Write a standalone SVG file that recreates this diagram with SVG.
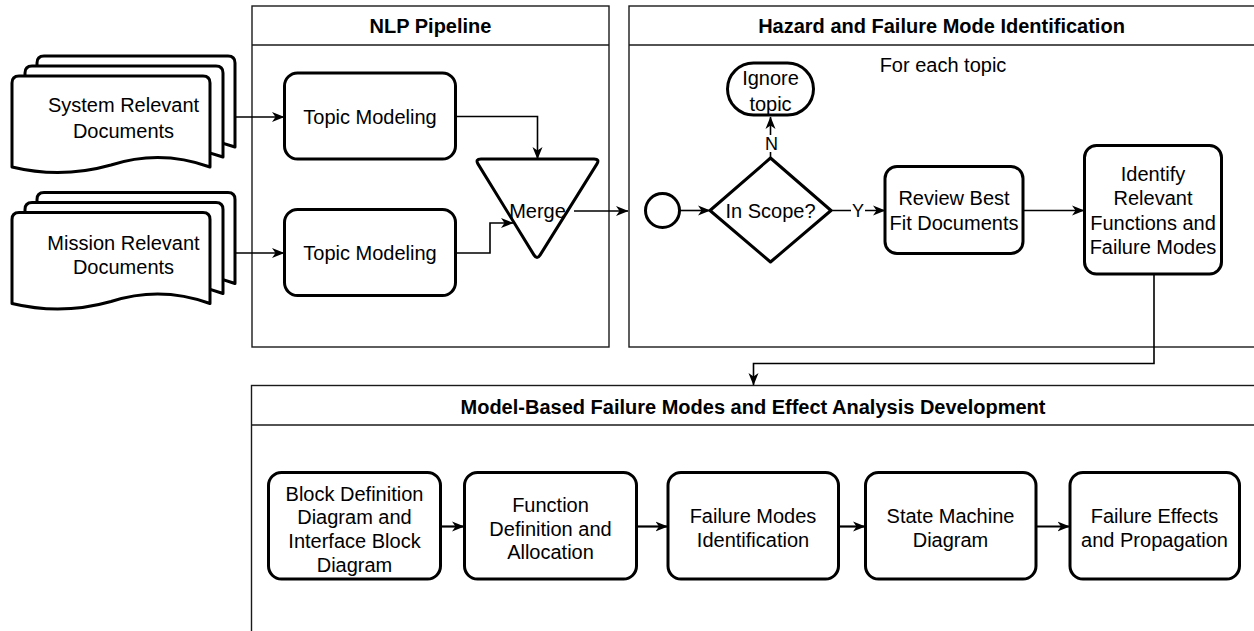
<svg xmlns="http://www.w3.org/2000/svg" width="1254" height="631" viewBox="0 0 1254 631">
<style>
  text{font-family:"Liberation Sans",Arial,sans-serif;font-size:20px;fill:#000;text-anchor:middle;dominant-baseline:central}
  .title{font-weight:bold}
  .lbl{font-size:18px}
  .cont{fill:#fff;stroke:#1a1a1a;stroke-width:1.4}
  .box{fill:#fff;stroke:#000;stroke-width:3;stroke-linejoin:round}
  .doc{fill:#fff;stroke:#000;stroke-width:3;stroke-linejoin:round}
  .edge{fill:none;stroke:#000;stroke-width:1.6}
  .edge2{fill:none;stroke:#000;stroke-width:2.2}
</style>
<defs>
  <marker id="arr" markerUnits="userSpaceOnUse" markerWidth="13" markerHeight="11" viewBox="0 0 13 11" refX="12" refY="5.5" orient="auto">
    <path d="M0,0.5 L12.5,5.5 L0,10.5 L3.5,5.5 Z" fill="#000"/>
  </marker>
  <path id="docshape" d="M0,7 Q0,0 7,0 L191,0 Q198,0 198,7 L198,91 Q148.5,73 99,89 Q49.5,103 0,91 Z"/>
</defs>
<rect width="1254" height="631" fill="#fff"/>

<g id="nlp-pipeline">
  <rect class="cont" x="252" y="6" width="357" height="341"/>
  <line x1="252" y1="45" x2="609" y2="45" stroke="#1a1a1a" stroke-width="1.4"/>
  <text class="title" x="430.5" y="26">NLP Pipeline</text>
</g>
<g id="hazard-identification">
  <rect class="cont" x="629" y="6" width="630" height="341"/>
  <line x1="629" y1="45" x2="1259" y2="45" stroke="#1a1a1a" stroke-width="1.4"/>
  <text class="title" x="941.5" y="26">Hazard and Failure Mode Identification</text>
  <text x="943" y="65">For each topic</text>
</g>
<g id="mbfmea-development">
  <rect class="cont" x="251.5" y="385.5" width="1008" height="260"/>
  <line x1="251.5" y1="425" x2="1259" y2="425" stroke="#1a1a1a" stroke-width="1.4"/>
  <text class="title" x="753" y="406.5">Model-Based Failure Modes and Effect Analysis Development</text>
</g>

<g id="system-docs">
  <use href="#docshape" class="doc" transform="translate(37,56)"/>
  <use href="#docshape" class="doc" transform="translate(25,66)"/>
  <use href="#docshape" class="doc" transform="translate(12,76)"/>
  <text x="123.5" y="105">System Relevant</text>
  <text x="123.5" y="130.5">Documents</text>
</g>
<g id="mission-docs">
  <use href="#docshape" class="doc" transform="translate(37,192.5)"/>
  <use href="#docshape" class="doc" transform="translate(25,202.5)"/>
  <use href="#docshape" class="doc" transform="translate(12,212.5)"/>
  <text x="123.5" y="242.5">Mission Relevant</text>
  <text x="123.5" y="267">Documents</text>
</g>

<g id="topic-modeling-1">
  <rect class="box" x="284.5" y="73" width="171" height="86" rx="13"/>
  <text x="370" y="116.5">Topic Modeling</text>
</g>
<g id="topic-modeling-2">
  <rect class="box" x="284.5" y="209.5" width="171" height="86" rx="13"/>
  <text x="370" y="252.5">Topic Modeling</text>
</g>
<g id="merge">
  <path class="box" d="M481,159 L594,159 Q600,159 596.8,164.1 L540.2,254.9 Q537,260 533.9,254.9 L478.1,164.1 Q475,159 481,159 Z"/>
  <text x="537.5" y="210.5">Merge</text>
</g>

<g id="start">
  <circle class="box" cx="662.5" cy="210.5" r="17"/>
</g>
<g id="in-scope">
  <path class="box" d="M710,210.5 L770.5,158 L831,210.5 L770.5,262 Z"/>
  <text x="770.5" y="210.5">In Scope?</text>
</g>
<g id="ignore-topic">
  <rect class="box" x="727.5" y="63" width="86" height="52" rx="26"/>
  <text x="770.5" y="77.5">Ignore</text>
  <text x="770.5" y="103.5">topic</text>
</g>
<g id="review-docs">
  <rect class="box" x="885" y="166.5" width="138" height="87" rx="12"/>
  <text x="954" y="198">Review Best</text>
  <text x="954" y="222.5">Fit Documents</text>
</g>
<g id="identify-functions">
  <rect class="box" x="1084.5" y="145.5" width="137" height="128.5" rx="12"/>
  <text x="1153" y="173.5">Identify</text>
  <text x="1153" y="198">Relevant</text>
  <text x="1153" y="222.5">Functions and</text>
  <text x="1153" y="247">Failure Modes</text>
</g>

<g id="bdd-ibd">
  <rect class="box" x="268.5" y="472.5" width="172" height="106.5" rx="13"/>
  <text x="354.5" y="493.5">Block Definition</text>
  <text x="354.5" y="517">Diagram and</text>
  <text x="354.5" y="541">Interface Block</text>
  <text x="354.5" y="565">Diagram</text>
</g>
<g id="function-definition">
  <rect class="box" x="464.5" y="472.5" width="172" height="106.5" rx="13"/>
  <text x="550.5" y="505">Function</text>
  <text x="550.5" y="528.5">Definition and</text>
  <text x="550.5" y="552">Allocation</text>
</g>
<g id="failure-modes-id">
  <rect class="box" x="668" y="472.5" width="170.5" height="106.5" rx="13"/>
  <text x="753" y="515.5">Failure Modes</text>
  <text x="753" y="540">Identification</text>
</g>
<g id="state-machine">
  <rect class="box" x="865.5" y="472.5" width="170.5" height="106.5" rx="13"/>
  <text x="950.5" y="515.5">State Machine</text>
  <text x="950.5" y="540">Diagram</text>
</g>
<g id="failure-effects">
  <rect class="box" x="1070" y="472.5" width="169.5" height="106.5" rx="13"/>
  <text x="1154.5" y="515.5">Failure Effects</text>
  <text x="1154.5" y="540">and Propagation</text>
</g>

<g id="connectors">
  <path class="edge" d="M235,117 H284" marker-end="url(#arr)"/>
  <path class="edge" d="M235,253 H284" marker-end="url(#arr)"/>
  <path class="edge" d="M456,116.5 H537.5 V159" marker-end="url(#arr)"/>
  <path class="edge" d="M456,253 H490 V223 H513" marker-end="url(#arr)"/>
  <path class="edge" d="M574,211 H628" marker-end="url(#arr)"/>
  <path class="edge" d="M680,210.5 H710" marker-end="url(#arr)"/>
  <path class="edge" d="M770.5,158 V117" marker-end="url(#arr)"/>
  <rect x="763" y="135" width="16" height="17" fill="#fff"/>
  <text class="lbl" x="771.5" y="143.5">N</text>
  <path class="edge" d="M831,210.5 H885" marker-end="url(#arr)"/>
  <rect x="851" y="201" width="14" height="19" fill="#fff"/>
  <text class="lbl" x="858" y="210.5">Y</text>
  <path class="edge" d="M1023,210.5 H1084" marker-end="url(#arr)"/>
  <path class="edge" d="M1154,274 V363.5 H753.5 V385" marker-end="url(#arr)"/>
  <path class="edge2" d="M440.5,526.5 H464" marker-end="url(#arr)"/>
  <path class="edge2" d="M636.5,526.5 H667.5" marker-end="url(#arr)"/>
  <path class="edge2" d="M838.5,526.5 H865" marker-end="url(#arr)"/>
  <path class="edge2" d="M1036,526.5 H1069.5" marker-end="url(#arr)"/>
</g>
</svg>
